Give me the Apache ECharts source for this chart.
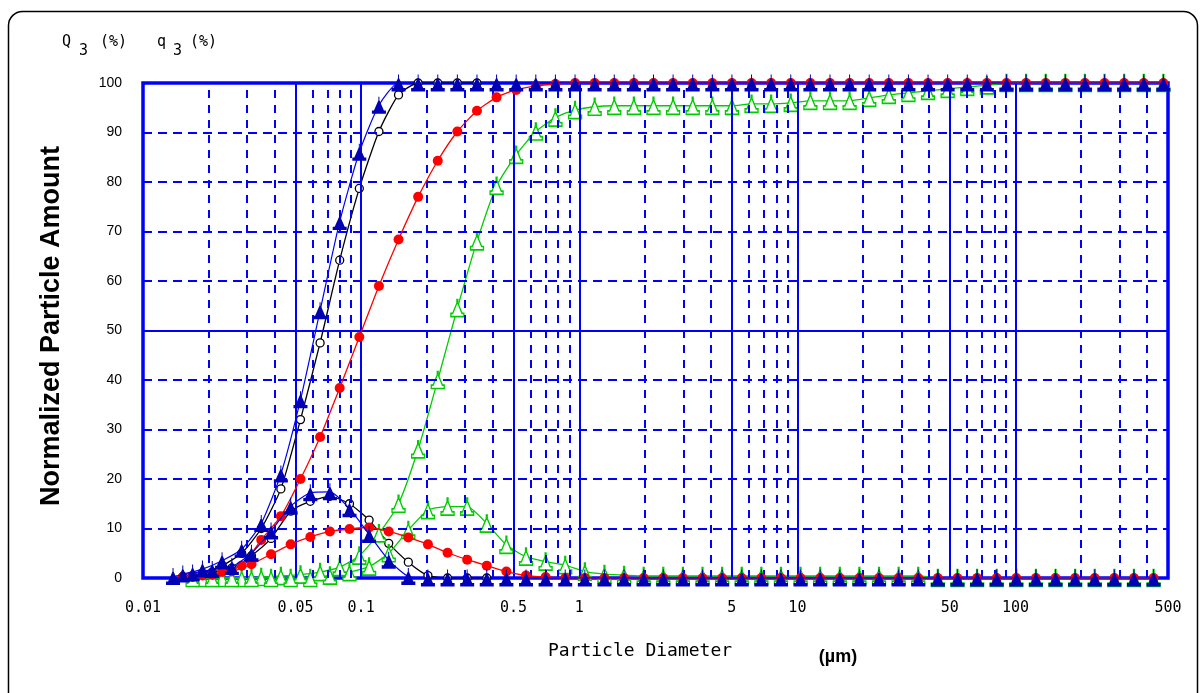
<!DOCTYPE html>
<html><head><meta charset="utf-8">
<script src="https://cdn.jsdelivr.net/npm/echarts@6/dist/echarts.min.js"></script>
<style>html,body{margin:0;padding:0;background:#fff}#c{width:1203px;height:693px}</style>
</head><body><div id="c"></div>
<script>
// particle diameters (µm): cumulative points (bin edges) and frequency points (bin centres)
const cumD = [0.01238,0.01522,0.01873,0.02304,0.02833,0.03484,0.04286,0.05272,0.06484,0.07975,0.0981,0.12066,0.1484,0.18253,0.22452,0.27615,0.33966,0.41779,0.51388,0.63207,0.77745,0.95649,1.1764,1.447,1.7798,2.1891,2.6926,3.3119,4.0736,5.0105,6.1628,7.5803,9.3237,11.468,14.106,17.35,21.341,26.249,32.287,39.713,48.846,60.081,73.899,90.896,111.8,137.52,169.15,208.05,255.9,314.76,387.15,476.2];
const freqD = [0.01373,0.01688,0.02077,0.02555,0.03142,0.03864,0.04753,0.05847,0.07191,0.08844,0.10879,0.13381,0.16458,0.20243,0.24899,0.30625,0.37668,0.46333,0.56989,0.70097,0.86219,1.0608,1.3046,1.6047,1.9738,2.4277,2.9861,3.6729,4.5176,5.5566,6.8345,8.4066,10.34,12.718,15.644,19.241,23.667,29.11,35.806,44.042,54.17,66.63,81.954,100.8,123.99,152.51,187.59,230.73,283.79,349.07,429.36];

// Q3 (cumulative, %) and q3 (frequency, %) per sample
const blueCum = [null,0.8,1.8,3.5,5.8,11,21,36,54,72,86,95.5,100,
  100,100,100,100,100,100,100,100,100,100,100,100,100,100,100,100,100,100,100,100,
  100,100,100,100,100,100,100,100,100,100,100,100,100,100,100,100,100,100,100];
const blueFreq = [0.3,1,1.7,2.3,5,9.5,14.5,17.2,17.4,14,8.8,3.6,0.3,
  0,0,0,0,0,0,0,0,0,0,0,0,0,0,0,0,0,0,0,0,0,0,0,0,0,0,0,0,0,0,0,0,0,0,0,0,0,0];
const blackCum = [null,0.3,1,2.5,5,10,18,32,47.5,64.2,78.7,90.2,97.6,100,100,100,100];
const blackFreq = [null,0.5,1.2,2,4.5,8,13.5,15.5,16.5,15,11.7,7,3.2,0.5,0,0,0];
const redCum = [null,0.2,0.5,1.2,2.5,7.7,12.5,20,28.5,38.4,48.7,59,68.4,77,84.3,90.2,94.4,97.1,98.6,99.4,99.8,
  100,100,100,100,100,100,100,100,100,100,100,100,100,100,100,100,100,100,100,100,100,100,100,100,100,100,100,100,100,100,100];
const redFreq = [null,0.2,0.6,1.3,2.8,4.8,6.8,8.3,9.4,9.9,10.2,9.4,8.2,6.8,5.1,3.7,2.5,1.3,0.5,0.2,
  0,0,0,0,0,0,0,0,0,0,0,0,0,0,0,0,0,0,0,0,0,0,0,0,0,0,0,0,0,0,0];
const greenCum = [null,null,0,0,0,0.2,0.4,0.7,1.2,2.2,4.5,9,15,26,40,54.5,68,79.2,85.5,90.2,93,94.5,95.2,
  95.4,95.4,95.4,95.4,95.4,95.4,95.4,95.8,95.8,96,96.4,96.4,96.4,97,97.6,98,98.4,98.8,99.2,99.5,
  100,100,100,100,100,100,100,100,100];
const greenFreq = [null,0,0,0,0,0,0,0,0.5,1.2,2.3,5,9.7,13.7,14.4,14.4,11,6.7,4.3,3.3,2.6,1.3,0.8,0.6,
  0.4,0.4,0.4,0.4,0.4,0.4,0.4,0.4,0.4,0.4,0.4,0.4,0.4,0.4,0.4,
  0,0,0,0,0,0,0,0,0,0,0,0];

// axis ticks / grid
const xMajorTicks = [0.01,0.05,0.1,0.5,1,5,10,50,100,500];
const xMajorLabels = ['0.01','0.05','0.1','0.5','1','5','10','50','100','500'];
const xMinorGrid = [0.02,0.03,0.04,0.06,0.07,0.08,0.09,0.2,0.3,0.4,0.6,0.7,0.8,0.9,2,3,4,6,7,8,9,20,30,40,60,70,80,90,200,300,400];
const yDashed = [10,20,30,40,60,70,80,90];
const ySolid = [50];

function pairs(xs, ys){ const out=[]; ys.forEach((v,i)=>{ if(v!==null) out.push([xs[i], v]); }); return out; }

const GRID_BLUE = '#0000ff';
const treePath = 'path://M6.5,0 L7.5,0 L7.5,3 L12,12 L14,12 L14,15 L0,15 L0,12 L2,12 L6.5,3 Z';

const mlData = [];
xMajorTicks.forEach((v,i)=>{
  mlData.push({xAxis: v,
    lineStyle: {type:'solid', width: 2, color: (v===0.01)?'rgba(0,0,0,0)':GRID_BLUE},
    label: {show:true, position:'start', formatter: xMajorLabels[i]}});
});
xMinorGrid.forEach(v=>mlData.push({xAxis: v, lineStyle:{type:[8,7], width:2, color:GRID_BLUE}, label:{show:false}}));
yDashed.forEach(v=>mlData.push({yAxis: v, lineStyle:{type:[9,6], width:2, color:GRID_BLUE}, label:{show:false}}));
ySolid.forEach(v=>mlData.push({yAxis: v, lineStyle:{type:'solid', width:2, color:GRID_BLUE}, label:{show:false}}));

function mkSeries(name, data, style, z){
  return Object.assign({name, type:'line', data, z, clip:false, animation:false, smooth:0.2,
    showAllSymbol:true}, style);
}
const blackStyle = {symbol:'circle', symbolSize:8, lineStyle:{color:'#000', width:1.3},
  itemStyle:{color:'#fff', borderColor:'#000', borderWidth:1.3}};
const greenStyle = {symbol:treePath, symbolSize:[13,17], lineStyle:{color:'#00cc00', width:1.3},
  itemStyle:{color:'#fff', borderColor:'#00cc00', borderWidth:1.5}};
const redStyle = {symbol:'circle', symbolSize:10, lineStyle:{color:'#ff0000', width:1.3},
  itemStyle:{color:'#ff0000'}};
const blueStyle = {symbol:treePath, symbolSize:[14,17], lineStyle:{color:'#0000ff', width:1.2},
  itemStyle:{color:'#0000b4'}};

const monoFont = '15px "DejaVu Sans Mono"';
const chart = echarts.init(document.getElementById('c'), null, {renderer:'canvas'});
chart.setOption({
  backgroundColor:'#fff',
  animation:false,
  grid:{left:143, top:83, width:1025, height:495, show:true, borderColor:GRID_BLUE, borderWidth:3.5, backgroundColor:'transparent'},
  xAxis:{type:'log', logBase:10, min:0.01, max:500, axisLabel:{show:false}, axisLine:{show:false}, axisTick:{show:false}, splitLine:{show:false}},
  yAxis:{type:'value', min:0, max:100, interval:10,
    axisLabel:{color:'#000', fontSize:14, fontFamily:'Liberation Sans', margin:21},
    axisLine:{show:false}, axisTick:{show:false}, splitLine:{show:false}},
  series:[
    {type:'line', data:[], z:1, silent:true,
     markLine:{symbol:['none','none'], silent:true, animation:false,
       label:{color:'#000', fontFamily:'DejaVu Sans Mono', fontSize:15, distance:23},
       data: mlData}},
    mkSeries('Q3 black', pairs(cumD, blackCum), blackStyle, 3),
    mkSeries('q3 black', pairs(freqD, blackFreq), blackStyle, 3),
    mkSeries('Q3 green', pairs(cumD, greenCum), greenStyle, 4),
    mkSeries('q3 green', pairs(freqD, greenFreq), greenStyle, 4),
    mkSeries('Q3 red', pairs(cumD, redCum), redStyle, 5),
    mkSeries('q3 red', pairs(freqD, redFreq), redStyle, 5),
    mkSeries('Q3 blue', pairs(cumD, blueCum), blueStyle, 6),
    mkSeries('q3 blue', pairs(freqD, blueFreq), blueStyle, 6)
  ],
  graphic:[
    {type:'rect', silent:true, shape:{x:8.5, y:11.5, width:1189, height:700, r:14}, style:{fill:'none', stroke:'#000', lineWidth:1.5}},
    {type:'text', x:62, y:42, style:{text:'Q', font:monoFont, fill:'#000', verticalAlign:'middle'}},
    {type:'text', x:79, y:51, style:{text:'3', font:monoFont, fill:'#000', verticalAlign:'middle'}},
    {type:'text', x:100, y:42, style:{text:'(%)', font:monoFont, fill:'#000', verticalAlign:'middle'}},
    {type:'text', x:157, y:42, style:{text:'q', font:monoFont, fill:'#000', verticalAlign:'middle'}},
    {type:'text', x:173, y:51, style:{text:'3', font:monoFont, fill:'#000', verticalAlign:'middle'}},
    {type:'text', x:190, y:42, style:{text:'(%)', font:monoFont, fill:'#000', verticalAlign:'middle'}},
    {type:'text', x:52, y:326, rotation:Math.PI/2, style:{text:'Normalized Particle Amount', font:'bold 27px "Liberation Sans"', fill:'#000', align:'center', verticalAlign:'middle'}},
    {type:'text', x:640, y:651, style:{text:'Particle Diameter', font:'18px "DejaVu Sans Mono"', fill:'#000', align:'center', verticalAlign:'middle'}},
    {type:'text', x:838, y:657, style:{text:'(µm)', font:'bold 18px "Liberation Sans"', fill:'#000', align:'center', verticalAlign:'middle'}}
  ]
});
</script>
</body></html>
